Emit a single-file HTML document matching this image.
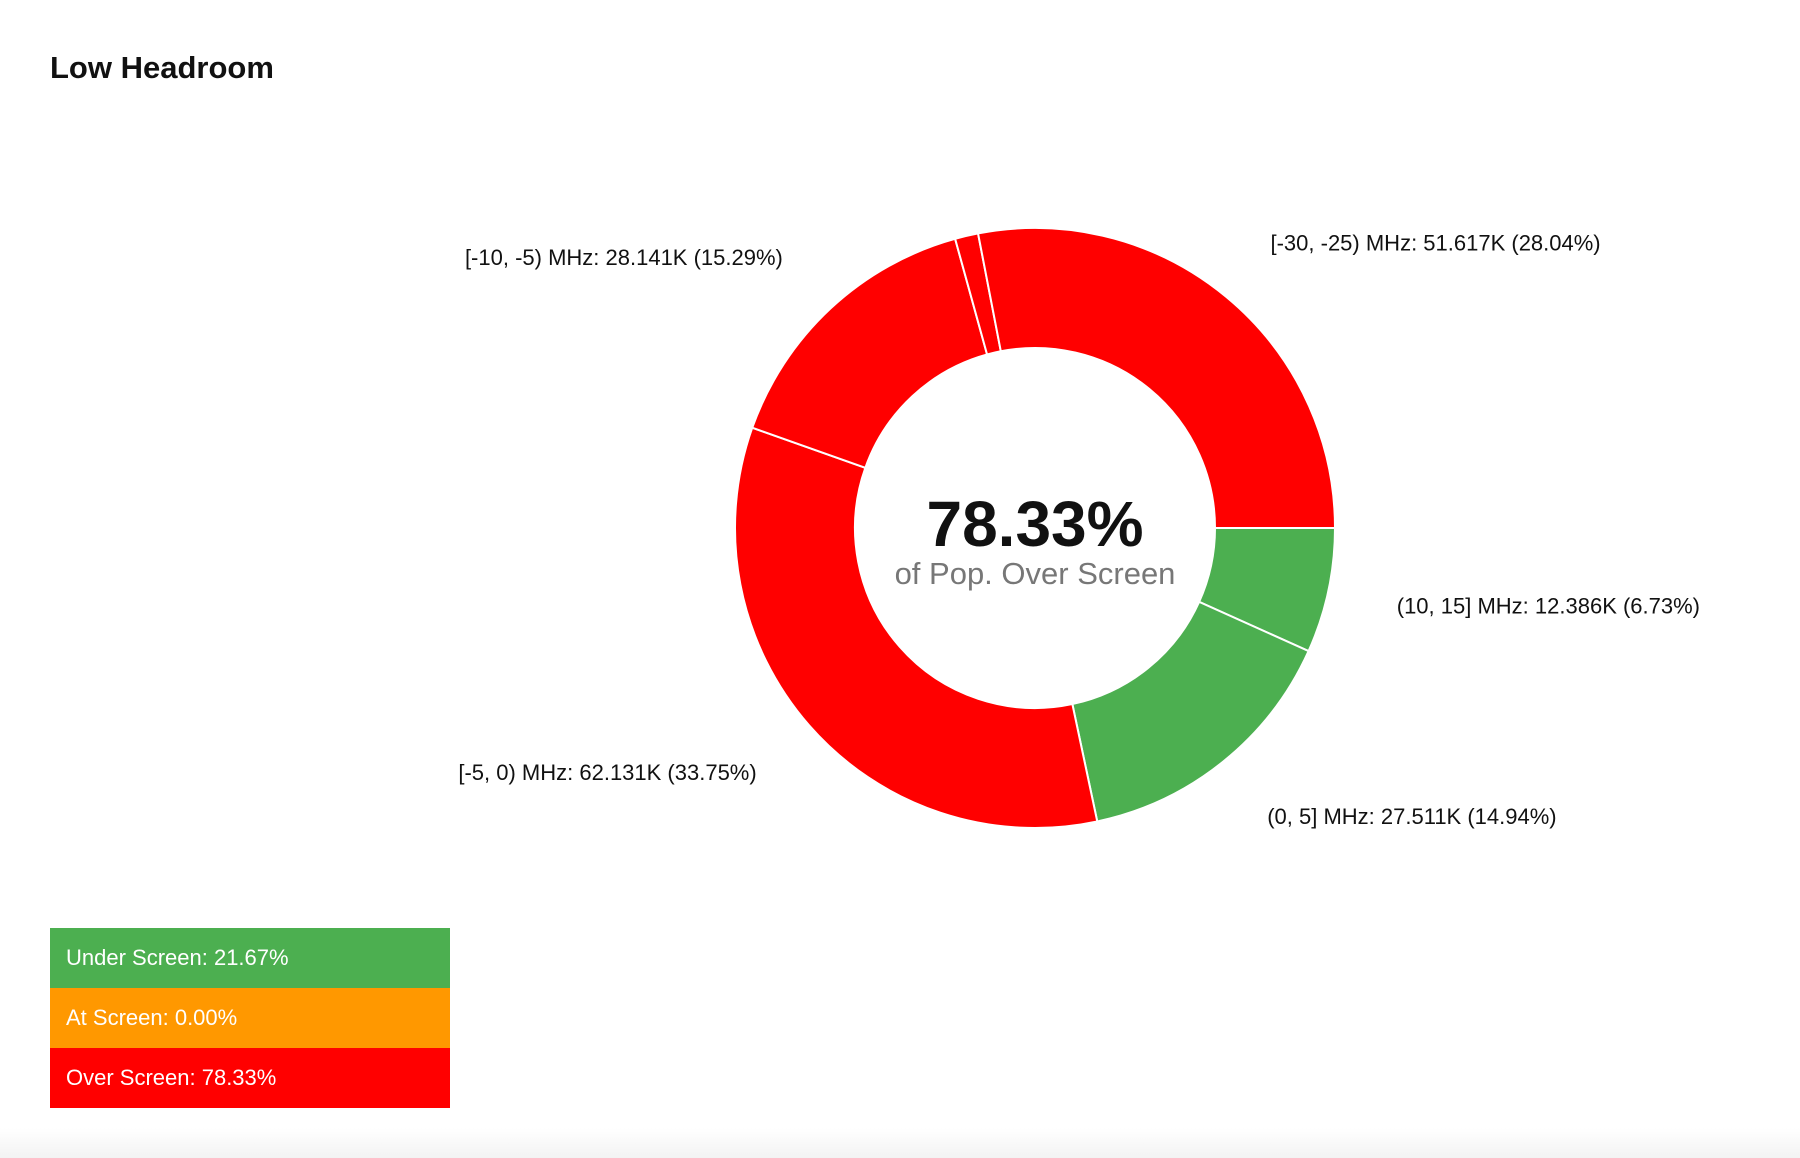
<!DOCTYPE html>
<html><head><meta charset="utf-8"><style>
html,body{margin:0;padding:0;background:#fff;width:1800px;height:1158px;overflow:hidden;font-family:"Liberation Sans",sans-serif;}
#title{position:absolute;left:50px;top:50px;font-size:31px;font-weight:bold;color:#111;margin:0}
#legend{position:absolute;left:50px;top:928px;width:400px}
.leg{height:60px;line-height:60px;color:#fff;font-size:22px;padding-left:16px;box-sizing:border-box}
#foot{position:absolute;left:0;top:1128px;width:1800px;height:30px;background:linear-gradient(#fff,#f3f3f3)}
</style></head><body>
<h1 id="title">Low Headroom</h1>
<svg id="chart" width="1800" height="1158" style="position:absolute;left:0;top:0"></svg>
<div id="legend">
<div class="leg" style="background:#4caf50">Under Screen: 21.67%</div>
<div class="leg" style="background:#ff9800">At Screen: 0.00%</div>
<div class="leg" style="background:#ff0000">Over Screen: 78.33%</div>
</div>
<div id="foot"></div>
<script>
const categories=["(10, 15] MHz","(0, 5] MHz","[-5, 0) MHz","[-10, -5) MHz","[-15, -10) MHz","[-30, -25) MHz"];
const values=[12.386,27.511,62.131,28.141,2.3,51.617];
const valueLabels=["12.386K","27.511K","62.131K","28.141K","2.300K","51.617K"];
const percentLabels=["6.73%","14.94%","33.75%","15.29%","1.25%","28.04%"];
const sliceColors=["#4caf50","#4caf50","#ff0000","#ff0000","#ff0000","#ff0000"];
const showLabel=[true,true,true,true,false,true];
const centerValue="78.33%";
const centerCaption="of Pop. Over Screen";

const NS="http://www.w3.org/2000/svg";
const svg=document.getElementById('chart');
const cx=1035,cy=528,R=300,r=180;
const total=values.reduce((a,b)=>a+b,0);
function ang(v){return v/total*2*Math.PI;}
function pt(a,rad){return [cx+rad*Math.cos(a),cy+rad*Math.sin(a)];}
let acc=0;
values.forEach((v,i)=>{
  const a0=ang(acc),a1=ang(acc+v);acc+=v;
  const large=(a1-a0)>Math.PI?1:0;
  const p0=pt(a0,R),p1=pt(a1,R),q1=pt(a1,r),q0=pt(a0,r);
  const p=document.createElementNS(NS,'path');
  p.setAttribute('d',`M${p0[0]},${p0[1]}A${R},${R} 0 ${large} 1 ${p1[0]},${p1[1]}L${q1[0]},${q1[1]}A${r},${r} 0 ${large} 0 ${q0[0]},${q0[1]}Z`);
  p.setAttribute('fill',sliceColors[i]);p.setAttribute('stroke','#fff');p.setAttribute('stroke-width','2');
  
  
  svg.appendChild(p);
  if(showLabel[i]){
    const m=(a0+a1)/2;
    const lp=pt(m,R+70);
    const t=document.createElementNS(NS,'text');
    const right=Math.cos(m)>=0;
    t.setAttribute('x',lp[0]+(right?0:0));t.setAttribute('y',lp[1]+8);
    t.setAttribute('text-anchor',right?'start':'end');
    t.setAttribute('font-size','22');t.setAttribute('fill','#111');
    t.setAttribute('font-family','Liberation Sans, sans-serif');
    t.textContent=`${categories[i]}: ${valueLabels[i]} (${percentLabels[i]})`;
    
    
    svg.appendChild(t);
  }
});
const c1=document.createElementNS(NS,'text');
c1.setAttribute('x',cx);c1.setAttribute('y',cy+18);c1.setAttribute('text-anchor','middle');
c1.setAttribute('font-size','64');c1.setAttribute('font-weight','bold');c1.setAttribute('fill','#111');
c1.setAttribute('font-family','Liberation Sans, sans-serif');
c1.textContent=centerValue;


svg.appendChild(c1);
const c2=document.createElementNS(NS,'text');
c2.setAttribute('x',cx);c2.setAttribute('y',cy+56);c2.setAttribute('text-anchor','middle');
c2.setAttribute('font-size','31');c2.setAttribute('fill','#777');
c2.setAttribute('font-family','Liberation Sans, sans-serif');
c2.textContent=centerCaption;


svg.appendChild(c2);
</script>
</body></html>
